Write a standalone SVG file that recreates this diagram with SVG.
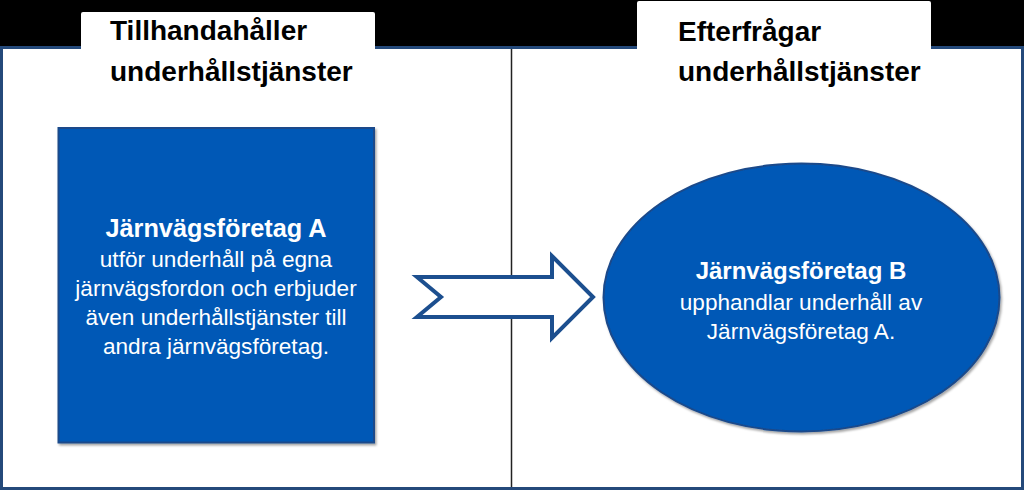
<svg xmlns="http://www.w3.org/2000/svg" width="1024" height="490" viewBox="0 0 1024 490">
  <style>
    .hdr { font-family: "Liberation Sans", Arial, sans-serif; font-weight: bold; font-size: 28px; fill: #000; }
    .ttl { font-family: "Liberation Sans", Arial, sans-serif; font-weight: bold; fill: #fff; text-anchor: middle; }
    .txt { font-family: "Liberation Sans", Arial, sans-serif; font-size: 22.6px; fill: #fff; text-anchor: middle; }
    .shape { fill: #0058B6; stroke: #1b4a8a; stroke-width: 2; }
  </style>
  <defs>
    <filter id="sh" x="-5%" y="-5%" width="115%" height="115%">
      <feDropShadow dx="1.5" dy="2" stdDeviation="1.2" flood-color="#000" flood-opacity="0.35"/>
    </filter>
  </defs>
  <rect x="0" y="0" width="1024" height="490" fill="#000"/>
  <g id="frame">
    <rect x="1.5" y="47.5" width="1021" height="441" fill="#fff" stroke="#24497a" stroke-width="3"/>
    <line x1="511.5" y1="49" x2="511.5" y2="487" stroke="#222" stroke-width="1.5"/>
  </g>
  <g id="header-left">
    <path d="M81,50 L81,14 Q81,12 83,12 L373,12 Q375,12 375,14 L375,50 Z" fill="#fff"/>
    <text class="hdr" x="110" y="40">Tillhandahåller</text>
    <text class="hdr" x="110" y="81">underhållstjänster</text>
  </g>
  <g id="header-right">
    <path d="M637,50 L637,3 Q637,1 639,1 L929,1 Q931,1 931,3 L931,50 Z" fill="#fff"/>
    <text class="hdr" x="678" y="41">Efterfrågar</text>
    <text class="hdr" x="678" y="81">underhållstjänster</text>
  </g>
  <g id="connectors">
    <path d="M417,277 L552,277 L552,256 L593,297 L552,338 L552,317 L417,317 L441,297 Z" fill="#fff" stroke="#1c4f8f" stroke-width="4" stroke-linejoin="miter"/>
  </g>
  <g id="node-a">
    <rect class="shape" x="58.5" y="128" width="315.5" height="314.5" filter="url(#sh)"/>
    <text class="ttl" x="216" y="237" font-size="25.3">Järnvägsföretag A</text>
    <text class="txt" x="216" y="267">utför underhåll på egna</text>
    <text class="txt" x="216" y="296">järnvägsfordon och erbjuder</text>
    <text class="txt" x="216" y="325">även underhållstjänster till</text>
    <text class="txt" x="216" y="354">andra järnvägsföretag.</text>
  </g>
  <g id="node-b">
    <ellipse class="shape" cx="801.5" cy="297.5" rx="198" ry="134" filter="url(#sh)"/>
    <text class="ttl" x="801" y="279" font-size="24">Järnvägsföretag B</text>
    <text class="txt" x="801" y="310">upphandlar underhåll av</text>
    <text class="txt" x="801" y="339">Järnvägsföretag A.</text>
  </g>
</svg>
